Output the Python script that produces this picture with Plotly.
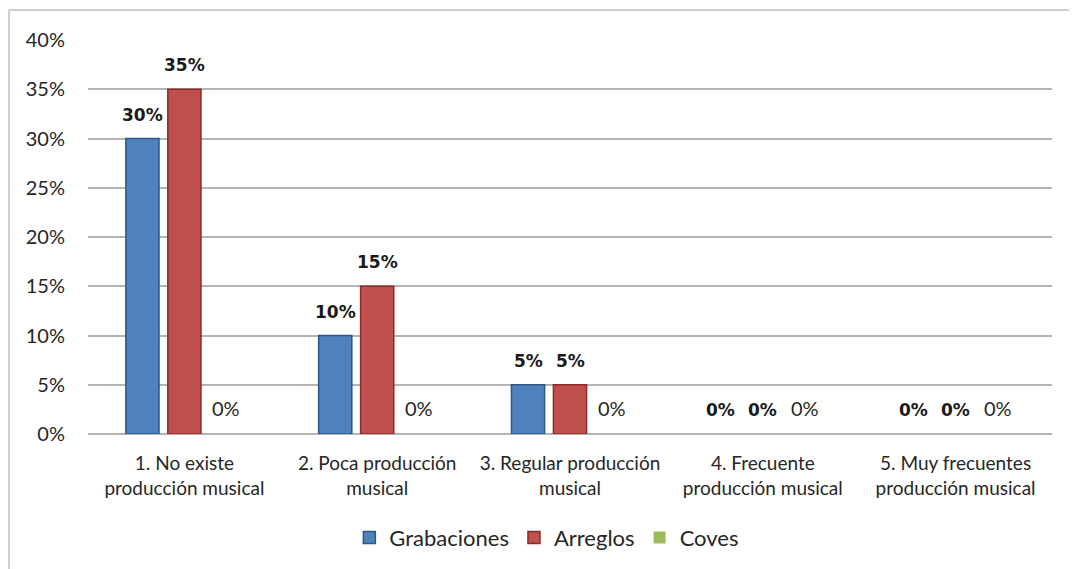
import plotly.graph_objects as go

categories = [
    "1. No existe<br>producción musical",
    "2. Poca producción<br>musical",
    "3. Regular producción<br>musical",
    "4. Frecuente<br>producción musical",
    "5. Muy frecuentes<br>producción musical",
]
grabaciones = [0.30, 0.10, 0.05, 0.0, 0.0]
arreglos = [0.35, 0.15, 0.05, 0.0, 0.0]
coves = [0.0, 0.0, 0.0, 0.0, 0.0]
y_ticks = [0, 0.05, 0.10, 0.15, 0.20, 0.25, 0.30, 0.35, 0.40]

base_font = "Lato, Calibri, sans-serif"
bold_font = dict(family="DejaVu Sans", size=17, color="#1a1a1a", weight="bold")
plain_font = dict(family=base_font, size=20, color="#262626")

# page has an 8px body margin, so the figure is a bit smaller than the window
W, H = 1069, 561
L, R, T, B = 80, 25, 32, 134
BARGAP = 0.347
plot_w = W - L - R
slot_px = (1 - BARGAP) / 3 * plot_w / len(categories)

series = [
    ("Grabaciones", grabaciones, "#4f81bd", "#2c5786", bold_font),
    ("Arreglos", arreglos, "#c0504d", "#8c2a28", bold_font),
    ("Coves", coves, "#9bbb59", "#71893f", plain_font),
]

fig = go.Figure()
annotations = []
for i, (name, vals, fill, edge, tfont) in enumerate(series):
    fig.add_trace(go.Bar(
        name=name,
        x=categories,
        y=vals,
        marker=dict(
            color=fill,
            # no outline on empty bars, Excel draws nothing there
            line=dict(color=edge, width=[1.5 if v > 0 else 0 for v in vals]),
        ),
    ))
    for cat, v in zip(categories, vals):
        annotations.append(dict(
            x=cat, y=v, xref="x", yref="y",
            text=f"{v:.0%}",
            showarrow=False,
            xanchor="center", yanchor="bottom",
            xshift=(i - 1) * slot_px,
            yshift=12,
            font=tfont,
        ))

fig.update_layout(
    barmode="group",
    bargap=BARGAP,
    bargroupgap=0.21,
    width=W,
    height=H,
    margin=dict(l=L, r=R, t=T, b=B),
    plot_bgcolor="white",
    paper_bgcolor="white",
    font=dict(family=base_font, size=20, color="#262626"),
    legend=dict(
        orientation="h",
        x=0.476,
        xanchor="center",
        y=-0.26,
        yanchor="middle",
        font=dict(size=22),
        itemwidth=30,
    ),
    yaxis=dict(
        range=[0, 0.40],
        tickvals=y_ticks,
        tickformat=".0%",
        showgrid=True,
        gridcolor="#b4b4b4",
        gridwidth=2,
        zeroline=True,
        zerolinecolor="#b4b4b4",
        zerolinewidth=2,
        ticklabelstandoff=22,
        tickfont=dict(size=20),
    ),
    xaxis=dict(
        showgrid=False,
        tickfont=dict(size=19),
        ticklabelstandoff=16,
    ),
    annotations=annotations,
    shapes=[
        dict(type="line", xref="paper", yref="paper",
             x0=-0.082, x1=-0.082, y0=1.076, y1=-0.36,
             line=dict(color="#cdcdcd", width=2)),
        dict(type="line", xref="paper", yref="paper",
             x0=-0.082, x1=1.03, y0=1.076, y1=1.076,
             line=dict(color="#cdcdcd", width=2)),
    ],
)

fig.write_html("out.html")
